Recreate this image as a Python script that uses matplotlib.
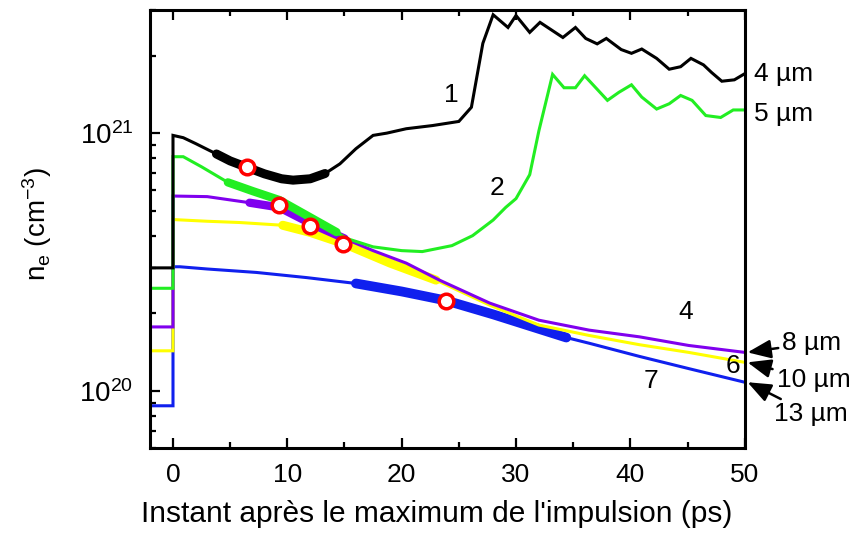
import numpy as np
import matplotlib
matplotlib.use("Agg")
import matplotlib.pyplot as plt
from matplotlib.ticker import LogLocator, NullFormatter, FixedLocator, LogFormatterMathtext

plt.rcParams['font.family'] = ['Liberation Sans', 'DejaVu Sans']
plt.rcParams['mathtext.fontset'] = 'custom'
plt.rcParams['mathtext.rm'] = 'Liberation Sans'
plt.rcParams['mathtext.it'] = 'Liberation Sans:italic'
plt.rcParams['mathtext.bf'] = 'Liberation Sans:bold'

# ---------------- data ----------------
x1 = [-2, 0, 0, 0.9, 2, 3.8, 5, 6.5, 8, 9.5, 10.5, 12, 13.3, 14.6, 16, 17.5, 18.7, 20.4, 22.7,
      25, 26.1, 27.1, 28, 29.3, 30, 31.2, 32.1, 34.1, 35.2, 36.1, 37.1, 37.9, 39.2, 40.1, 41,
      42.3, 43.4, 44.4, 45.3, 46.4, 47.1, 48, 49.1, 50]
y1 = [3e20, 3e20, 9.8e20, 9.6e20, 9.1e20, 8.3e20, 7.8e20, 7.36e20, 6.95e20, 6.65e20, 6.57e20,
      6.65e20, 6.97e20, 7.6e20, 8.7e20, 9.8e20, 1.0e21, 1.04e21, 1.07e21,
      1.11e21, 1.26e21, 2.23e21, 2.88e21, 2.57e21, 2.86e21, 2.46e21, 2.69e21, 2.35e21, 2.57e21,
      2.33e21, 2.22e21, 2.33e21, 2.11e21, 2.04e21, 2.12e21, 1.95e21, 1.77e21, 1.81e21, 1.95e21,
      1.84e21, 1.72e21, 1.59e21, 1.61e21, 1.7e21]

x2 = [-2, 0, 0, 0.9, 2.5, 4.8, 7, 9.3, 11.5, 14.3, 15.2, 17.5, 20, 21.8, 24.4, 26.2, 28, 29.1,
      30.0, 31.2, 32.0, 33.2, 34.2, 35.2, 36.0, 38.0, 39.0, 40.1, 41.0, 42.3, 43.4, 44.4, 45.4,
      46.6, 47.9, 49.0, 50]
y2 = [2.5e20, 2.5e20, 8.1e20, 8.1e20, 7.4e20, 6.44e20, 5.95e20, 5.5e20, 4.85e20, 4.13e20,
      3.9e20, 3.62e20, 3.5e20, 3.47e20, 3.66e20, 4.0e20, 4.6e20, 5.15e20, 5.57e20, 6.9e20,
      1.02e21, 1.69e21, 1.5e21, 1.5e21, 1.67e21, 1.34e21, 1.44e21, 1.54e21, 1.38e21, 1.24e21,
      1.3e21, 1.4e21, 1.34e21, 1.17e21, 1.15e21, 1.23e21, 1.23e21]

x4 = [-2, 0, 0, 3, 6.7, 9.3, 12, 15, 17.5, 20.4, 23.3, 27.7, 32, 36.4, 40.8, 45.1, 50]
y4 = [1.77e20, 1.77e20, 5.7e20, 5.67e20, 5.37e20, 5.15e20, 4.47e20, 3.9e20, 3.5e20, 3.13e20,
      2.69e20, 2.19e20, 1.88e20, 1.72e20, 1.62e20, 1.5e20, 1.41e20]

x6 = [-2, 0, 0, 3, 5.8, 9.6, 12, 15, 19, 23, 27.7, 32, 36.4, 40.8, 45.1, 50]
y6 = [1.43e20, 1.43e20, 4.62e20, 4.55e20, 4.5e20, 4.39e20, 4.12e20, 3.72e20, 3.13e20, 2.69e20,
      2.15e20, 1.8e20, 1.64e20, 1.51e20, 1.41e20, 1.29e20]

x7 = [-2, 0, 0, 0.6, 3, 7.3, 11.7, 16, 20, 23.9, 28, 34.4, 36.4, 40.8, 45.1, 50]
y7 = [8.75e19, 8.75e19, 3.03e20, 3.03e20, 2.97e20, 2.88e20, 2.75e20, 2.61e20, 2.43e20, 2.24e20,
      1.98e20, 1.61e20, 1.53e20, 1.36e20, 1.22e20, 1.08e20]

# thick segment ranges (x start, x end) for each curve
thick1 = (3.8, 13.3)
thick2 = (4.8, 14.3)
thick4 = (6.7, 15.0)
thick6 = (9.6, 23.0)
thick7 = (16.0, 34.4)

# red circle markers
cx = [6.5, 9.25, 11.95, 14.9, 23.9]
cy = [7.36e20, 5.28e20, 4.37e20, 3.71e20, 2.24e20]

curve_labels = ['1', '2', '4', '6', '7']
curve_label_x = [24.35, 28.3, 44.8, 49.0, 41.8]
curve_label_y = [1.40e21, 6.1e20, 2.02e20, 1.25e20, 1.09e20]

size_labels = ['4 µm', '5 µm']
size_label_y = [1.70e21, 1.19e21]

arrow_labels = ['8 µm', '10 µm', '13 µm']
arrow_text_xy = [(53.3, 1.53e20), (52.8, 1.10e20), (52.6, 8.1e19)]
arrow_head_xy = [(50.25, 1.41e20), (50.25, 1.29e20), (50.25, 1.08e20)]

# ---------------- plot ----------------
fig = plt.figure(figsize=(8.53, 5.35), dpi=100)
ax = fig.add_axes([0.176, 0.1626, 0.697, 0.8184])

c_black = '#000000'
c_green = '#22ee22'
c_purple = '#8000ee'
c_yellow = '#ffff00'
c_blue = '#1020ee'

curves = [(x7, y7, c_blue, thick7, 7.0),
          (x6, y6, c_yellow, thick6, 6.5),
          (x4, y4, c_purple, thick4, 6.0),
          (x2, y2, c_green, thick2, 6.0),
          (x1, y1, c_black, thick1, 6.5)]
for xs, ys, col, th, lw in curves:
    xa = np.array(xs)
    ya = np.array(ys)
    ax.plot(xa, ya, color=col, lw=2.2, solid_joinstyle='miter')
    m = (xa >= th[0]) & (xa <= th[1])
    ax.plot(xa[m], ya[m], color=col, lw=lw, solid_capstyle='round')

ax.plot(cx, cy, 'o', ms=10.5, mfc='white', mec='#ff0000', mew=2.5, zorder=5)

ax.set_yscale('log')
ax.set_xlim(-2, 50)
ax.set_ylim(6e19, 3e21)

ax.xaxis.set_major_locator(FixedLocator([0, 10, 20, 30, 40, 50]))
ax.xaxis.set_minor_locator(FixedLocator([5, 15, 25, 35, 45]))
ax.yaxis.set_major_locator(LogLocator(base=10, numticks=10))
ax.yaxis.set_minor_locator(LogLocator(base=10, subs=np.arange(2, 10), numticks=20))
ax.yaxis.set_minor_formatter(NullFormatter())
ax.yaxis.set_major_formatter(LogFormatterMathtext())

ax.tick_params(axis='x', which='major', direction='in', length=7, width=1.6, top=True,
               labelsize=19, pad=11)
ax.tick_params(axis='x', which='minor', direction='in', length=4.5, width=1.6, top=True)
ax.tick_params(axis='y', which='major', direction='in', length=7, width=1.6, right=False,
               labelsize=20, pad=12)
ax.tick_params(axis='y', which='minor', direction='in', length=4.5, width=1.6, right=False)
for sp in ax.spines.values():
    sp.set_linewidth(2.2)

ax.set_xlabel("Instant après le maximum de l'impulsion (ps)", fontsize=21.5)
ax.xaxis.set_label_coords(0.482, -0.118)
ax.set_ylabel(r'n$_\mathregular{e}$ (cm$^\mathregular{-3}$)', fontsize=20)
ax.yaxis.set_label_coords(-0.162, 0.512)

for t, tx, ty in zip(curve_labels, curve_label_x, curve_label_y):
    ax.text(tx, ty, t, fontsize=19, ha='center', va='center')

for t, ty in zip(size_labels, size_label_y):
    ax.text(50.8, ty, t, fontsize=19, ha='left', va='center', clip_on=False)

for t, txy, hxy in zip(arrow_labels, arrow_text_xy, arrow_head_xy):
    ax.annotate(t, xy=hxy, xytext=txy, fontsize=19, ha='left', va='center',
                annotation_clip=False,
                arrowprops=dict(arrowstyle='-|>,head_length=0.75,head_width=0.3',
                                color='black', lw=1.8, shrinkA=1, shrinkB=0))

fig.savefig('out.png', dpi=100)
